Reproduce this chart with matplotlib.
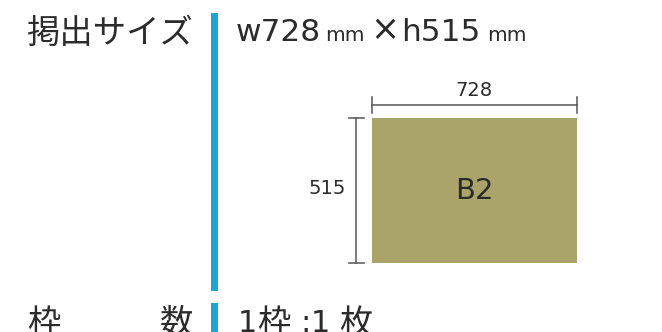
import matplotlib.pyplot as plt
from matplotlib.patches import Rectangle

plt.rcParams['font.family'] = ['Noto Sans CJK JP', 'DejaVu Sans']

# data
label_size = '掲出サイズ'
label_count = ['枠', '数']
paper_name = 'B2'
width_mm = 728
height_mm = 515
count_num = ['1', '1']
count_unit = ['枠', ':', '枚']

text_col = '#2b2b2b'
bar_col = '#1aa8d2'
paper_col = '#aaa46a'
dim_col = '#555555'
latin = 'DejaVu Sans'

fig = plt.figure(figsize=(6.62, 3.32), dpi=100)
ax = fig.add_axes([0, 0, 1, 1])
ax.set_xlim(0, 662)
ax.set_ylim(332, 0)
ax.axis('off')

# headings
ax.text(26, 33, label_size, fontsize=24, color=text_col, va='center', ha='left')
ax.text(27, 323, label_count[0], fontsize=24, color=text_col, va='center', ha='left')
ax.text(160, 323, label_count[1], fontsize=24, color=text_col, va='center', ha='left')

# blue separator
ax.add_patch(Rectangle((211, 13), 7, 278, color=bar_col, lw=0))
ax.add_patch(Rectangle((211, 303), 7, 40, color=bar_col, lw=0))

# size text
base = 41
ax.text(236, base, f'w{width_mm}', fontsize=22.5, color=text_col, va='baseline', ha='left', family=latin)
ax.text(325, base, 'mm', fontsize=14.5, color=text_col, va='baseline', ha='left', family=latin)
ax.text(370, base - 1, '×', fontsize=25, color=text_col, va='baseline', ha='left', family=latin)
ax.text(401, base, f'h{height_mm}', fontsize=22.5, color=text_col, va='baseline', ha='left', family=latin)
ax.text(487, base, 'mm', fontsize=14.5, color=text_col, va='baseline', ha='left', family=latin)

# count text
ax.text(247, 323, count_num[0], fontsize=22, color=text_col, va='center', ha='center', family=latin)
ax.text(257, 323, count_unit[0], fontsize=24, color=text_col, va='center', ha='left')
ax.text(305, 323, count_unit[1], fontsize=22, color=text_col, va='center', ha='center', family=latin)
ax.text(320, 323, count_num[1], fontsize=22, color=text_col, va='center', ha='center', family=latin)
ax.text(339, 323, count_unit[2], fontsize=24, color=text_col, va='center', ha='left')

# paper rectangle, scaled from mm
x0, y0 = 372, 118
scale = 204.5 / width_mm
pw = width_mm * scale
ph = height_mm * scale
ax.add_patch(Rectangle((x0, y0), pw, ph, color=paper_col, lw=0))
ax.text(x0 + pw / 2, y0 + ph / 2 + 1, paper_name, fontsize=21, color=text_col,
        ha='center', va='center', family=latin)

# width dimension
ax.plot([x0, x0 + pw], [105, 105], color=dim_col, lw=1.1)
ax.plot([x0, x0], [97, 113], color=dim_col, lw=1.1)
ax.plot([x0 + pw, x0 + pw], [97, 113], color=dim_col, lw=1.1)
ax.text(x0 + pw / 2, 90.5, str(width_mm), fontsize=14, color=text_col, ha='center', va='center',
        family=latin)

# height dimension
ax.plot([356, 356], [y0, y0 + ph], color=dim_col, lw=1.1)
ax.plot([349, 364], [y0, y0], color=dim_col, lw=1.1)
ax.plot([349, 364], [y0 + ph, y0 + ph], color=dim_col, lw=1.1)
ax.text(327.5, 188.5, str(height_mm), fontsize=14, color=text_col, ha='center', va='center',
        family=latin)

fig.savefig('out.png', dpi=100)
